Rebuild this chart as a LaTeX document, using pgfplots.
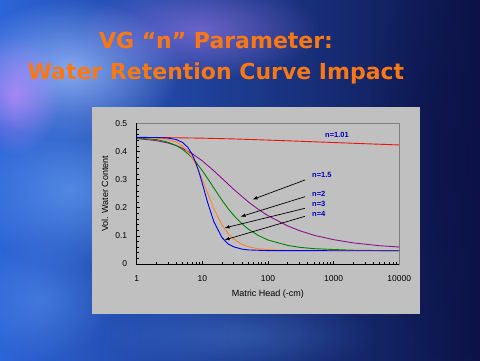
\documentclass[border=0pt]{standalone}
\usepackage{pgfplots}
\pgfplotsset{compat=1.18}
\usepackage{fontspec}
\setmainfont{Liberation Sans}
\newfontfamily\titlefont{DejaVu Sans}
\usetikzlibrary{fadings,arrows.meta}
\tikzfading[name=fadeout, inner color=transparent!0, outer color=transparent!100]
\definecolor{ttl}{RGB}{250,120,20}
\definecolor{panel}{RGB}{192,192,192}
\definecolor{frame}{RGB}{128,128,128}
\definecolor{lbl}{RGB}{0,0,185}
\definecolor{cred}{RGB}{235,20,20}
\definecolor{cpurple}{RGB}{140,20,140}
\definecolor{cgreen}{RGB}{0,130,0}
\definecolor{corange}{RGB}{255,130,40}
\definecolor{cblue}{RGB}{0,0,235}
\definecolor{bgA}{RGB}{45,100,215}
\definecolor{bgB}{RGB}{30,55,160}
\definecolor{bgC}{RGB}{12,18,70}
\definecolor{lite}{RGB}{165,195,255}
\definecolor{lav}{RGB}{200,140,255}
\definecolor{sky}{RGB}{110,170,250}

\pgfplotstableread{
h theta
1 0.4496
3 0.4490
10 0.4472
30 0.4445
100 0.4404
300 0.4363
1000 0.4317
3000 0.4275
10000 0.4230
}\tabA
\pgfplotstableread{
h theta
1 0.4458
2 0.4386
3 0.4300
4 0.4207
5 0.4111
7 0.3923
10 0.3664
15 0.3311
20 0.3039
30 0.2655
50 0.2210
70 0.1954
100 0.1717
200 0.1352
300 0.1188
500 0.1022
1000 0.0865
2000 0.0750
5000 0.0650
10000 0.0605
}\tabB
\pgfplotstableread{
h theta
1 0.4480
2 0.4421
3 0.4329
4 0.4210
5 0.4072
6 0.3923
7 0.3768
8 0.3613
10 0.3314
12 0.3043
15 0.2697
20 0.2261
25 0.1954
30 0.1731
40 0.1432
50 0.1244
70 0.1023
100 0.0853
200 0.0660
300 0.0595
500 0.0545
1000 0.0515
2000 0.0490
5000 0.0478
10000 0.0472
}\tabC
\pgfplotstableread{
h theta
1 0.4497
2 0.4479
3 0.4429
4 0.4336
5 0.4194
6 0.4005
7 0.3777
8 0.3524
9 0.3261
10 0.3001
12 0.2524
15 0.1964
20 0.1386
25 0.1072
30 0.0889
40 0.0701
50 0.0611
70 0.0545
100 0.0510
200 0.0480
500 0.0472
10000 0.0470
}\tabD
\pgfplotstableread{
h theta
1 0.4500
2 0.4495
3 0.4476
4 0.4424
5 0.4320
6 0.4146
7 0.3896
8 0.3581
9 0.3224
10 0.2858
12 0.2195
15 0.1498
20 0.0934
25 0.0704
30 0.0610
40 0.0530
50 0.0500
100 0.0475
10000 0.0470
}\tabE

\begin{document}
\begin{tikzpicture}[x=1pt,y=1pt]
\useasboundingbox (0,0) rectangle (480,360);
% slide background
\shade[left color=bgA, middle color=bgB, right color=bgC] (0,0) rectangle (480,360);
\fill[lite, path fading=fadeout, fill opacity=0.75] (70,290) ellipse (110 and 70);
\fill[lav, path fading=fadeout, fill opacity=0.7] (15,265) ellipse (45 and 60);
\fill[sky, path fading=fadeout, fill opacity=0.6] (70,170) ellipse (100 and 80);
\fill[lav, path fading=fadeout, fill opacity=0.45] (200,330) ellipse (120 and 50);
\fill[sky, path fading=fadeout, fill opacity=0.35] (40,60) ellipse (70 and 60);
\fill[sky, path fading=fadeout, fill opacity=0.25] (240,25) ellipse (140 and 35);
\fill[bgC, path fading=fadeout, fill opacity=0.6] (455,200) ellipse (90 and 200);
% title
\node[anchor=base, text=ttl, font=\titlefont\bfseries\fontsize{22}{26}\selectfont] at (216,311.7) {VG “n” Parameter:};
\node[anchor=base, text=ttl, font=\titlefont\bfseries\fontsize{22}{26}\selectfont] at (216,280.7) {Water Retention Curve Impact};
% chart panel
\fill[panel] (92,46) rectangle (420,253);
\begin{axis}[
  at={(136.7pt,96pt)}, anchor=south west,
  scale only axis, width=262.6pt, height=140.7pt,
  xmode=log, xmin=1, xmax=10000, ymin=0, ymax=0.5,
  xtick={1,10,100,1000,10000}, xticklabels={1,10,100,1000,10000},
  ytick={0,0.1,0.2,0.3,0.4,0.5}, yticklabels={0,0.1,0.2,0.3,0.4,0.5},
  minor y tick num=4,
  tick pos=left, tick align=inside,
  major tick length=3pt, minor tick length=2pt,
  tick style={black, line width=0.6pt},
  axis line style={frame, line width=0.8pt},
  ticklabel style={font=\fontsize{8.5}{10}\selectfont},
  yticklabel style={anchor=east, xshift=-6pt},
  xticklabel style={anchor=north, yshift=-8pt},
  xlabel={Matric Head (-cm)}, ylabel={Vol. Water Content},
  label style={font=\fontsize{9}{11}\selectfont},
  xlabel style={at={(axis description cs:0.5,-0.2154)}, anchor=center},
  ylabel style={at={(axis description cs:-0.1207,0.5)}, anchor=center},
  every axis plot/.append style={line width=0.9pt},
  clip=false,
]
\addplot[cred] table[x=h,y=theta] {\tabA};
\addplot[cpurple] table[x=h,y=theta] {\tabB};
\addplot[cgreen] table[x=h,y=theta] {\tabC};
\addplot[corange] table[x=h,y=theta] {\tabD};
\addplot[cblue] table[x=h,y=theta] {\tabE};
\draw[black, line width=0.8pt] (rel axis cs:0,1) -- (rel axis cs:0,0) -- (rel axis cs:1,0);
\end{axis}
% annotations
\begin{scope}[font=\bfseries\fontsize{7.5}{9}\selectfont, text=lbl]
\node[anchor=west, inner sep=0] at (325,225) {n=1.01};
\node[anchor=west, inner sep=0] at (312,185) {n=1.5};
\node[anchor=west, inner sep=0] at (312,165.7) {n=2};
\node[anchor=west, inner sep=0] at (312,155.7) {n=3};
\node[anchor=west, inner sep=0] at (312,145.7) {n=4};
\end{scope}
\begin{scope}[black, line width=0.7pt, -{Latex[length=5pt,width=3.5pt]}]
\draw (305,180) -- (252.5,160.5);
\draw (305,163.3) -- (240.5,143.3);
\draw (305,151.7) -- (224.5,132);
\draw (305,143.7) -- (224.5,120);
\end{scope}
\end{tikzpicture}
\end{document}
